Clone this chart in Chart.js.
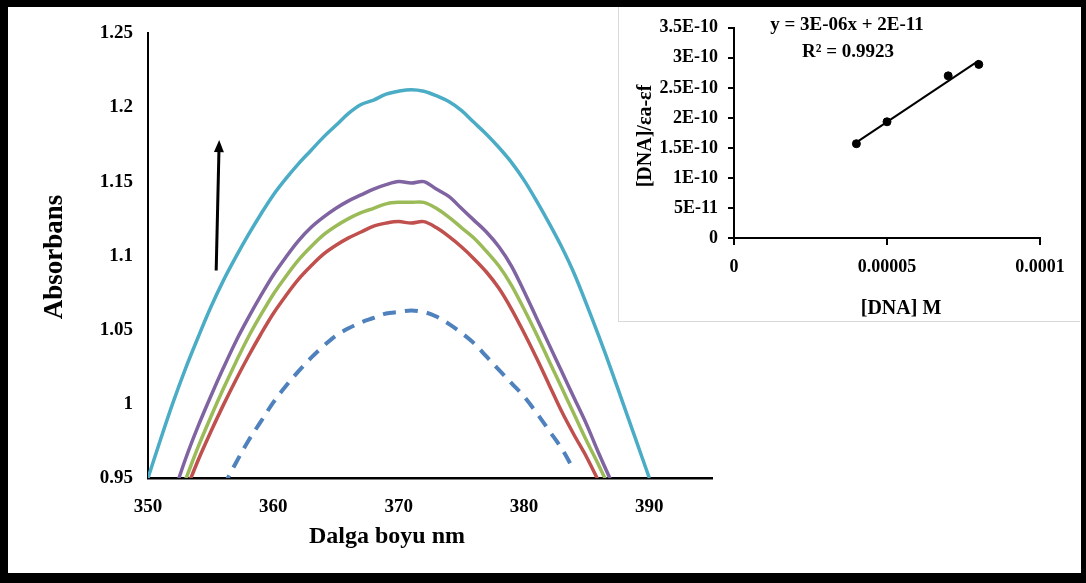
<!DOCTYPE html>
<html lang="tr">
<head>
<meta charset="utf-8">
<title>Absorbans - Dalga boyu</title>
<script src="https://cdn.jsdelivr.net/npm/chart.js@4.4.1/dist/chart.umd.min.js"></script>
<style>
    html, body { margin: 0; padding: 0; background: #000; }
    body { width: 1086px; height: 583px; position: relative; overflow: hidden; }
    #sheet  { position: absolute; left: 8px; top: 7px; width: 1073px; height: 566px; background: #fff; }
    #main   { position: absolute; left: 0; top: 0; }
    #insetBox {
        position: absolute; left: 610px; top: 0; width: 462px; height: 315px;
        background: #fff; border-left: 1px solid #d9d9d9; border-bottom: 1px solid #d9d9d9;
        box-sizing: border-box;
    }
    #inset  { position: absolute; left: 0; top: 0; }
</style>
</head>
<body>
<div id="sheet">
    <canvas id="main" width="1073" height="566"></canvas>
    <div id="insetBox"><canvas id="inset" width="462" height="315"></canvas></div>
</div>

<script>
// ── Data: UV-Vis spectra (main chart) ────────────────────────────────────────
const NM = [350, 351, 352, 353, 354, 355, 356, 357, 358, 359,
            360, 361, 362, 363, 364, 365, 366, 367, 368, 369,
            370, 371, 372, 373, 374, 375, 376, 377, 378, 379,
            380, 381, 382, 383, 384, 385, 386, 387, 388, 389, 390];

const ABS_DASHED = [null, null, null, null, null, null, 0.944, 0.960, 0.975, 0.988,
                    1.001, 1.012, 1.022, 1.031, 1.039, 1.046, 1.051, 1.055, 1.058, 1.061,
                    1.062, 1.063, 1.062, 1.059, 1.054, 1.048, 1.041, 1.032, 1.023, 1.014,
                    1.005, 0.994, 0.982, 0.970, 0.955, null, null, null, null, null, null];

const ABS_RED = [null, null, null, 0.941, 0.962, 0.981, 0.999, 1.016, 1.032, 1.047,
                 1.061, 1.073, 1.084, 1.093, 1.101, 1.107, 1.112, 1.116, 1.120, 1.122,
                 1.123, 1.122, 1.123, 1.119, 1.113, 1.106, 1.098, 1.089, 1.078, 1.064,
                 1.048, 1.031, 1.013, 0.995, 0.979, 0.964, 0.947, null, null, null, null];

const ABS_GREEN = [null, null, null, 0.949, 0.971, 0.991, 1.010, 1.028, 1.045, 1.060,
                   1.074, 1.086, 1.097, 1.106, 1.114, 1.120, 1.125, 1.129, 1.132, 1.135,
                   1.136, 1.136, 1.136, 1.132, 1.126, 1.119, 1.112, 1.103, 1.093, 1.080,
                   1.064, 1.047, 1.029, 1.011, 0.993, 0.975, 0.958, 0.940, null, null, null];

const ABS_PURPLE = [null, null, 0.938, 0.963, 0.985, 1.005, 1.024, 1.042, 1.058, 1.073,
                    1.087, 1.099, 1.110, 1.119, 1.126, 1.132, 1.137, 1.141, 1.145, 1.148,
                    1.150, 1.149, 1.150, 1.145, 1.140, 1.132, 1.124, 1.116, 1.106, 1.093,
                    1.076, 1.058, 1.040, 1.022, 1.004, 0.986, 0.966, 0.947, null, null, null];

const ABS_CYAN = [0.950, 0.976, 1.001, 1.024, 1.045, 1.065, 1.083, 1.099, 1.114, 1.128,
                  1.141, 1.152, 1.162, 1.171, 1.180, 1.188, 1.196, 1.202, 1.205, 1.209,
                  1.211, 1.212, 1.211, 1.208, 1.204, 1.198, 1.190, 1.182, 1.173, 1.163,
                  1.151, 1.137, 1.122, 1.106, 1.088, 1.067, 1.045, 1.022, 0.998, 0.974, 0.950];

const X_TICKS = [350, 360, 370, 380, 390];
const Y_TICKS = [0.95, 1, 1.05, 1.1, 1.15, 1.2, 1.25];
const Y_TICK_LABELS = ['0.95', '1', '1.05', '1.1', '1.15', '1.2', '1.25'];

// ── Data: inset (binding plot) ───────────────────────────────────────────────
const DNA_M   = [0.00004, 0.00005, 0.00007, 0.00008];
const DNA_EPS = [1.57e-10, 1.935e-10, 2.70e-10, 2.89e-10];

const INSET_X_TICKS = [0, 0.00005, 0.0001];
const INSET_X_TICK_LABELS = ['0', '0.00005', '0.0001'];
const INSET_Y_TICKS = [0, 5e-11, 1e-10, 1.5e-10, 2e-10, 2.5e-10, 3e-10, 3.5e-10];
const INSET_Y_TICK_LABELS = ['0', '5E-11', '1E-10', '1.5E-10', '2E-10', '2.5E-10', '3E-10', '3.5E-10'];

const EQUATION = 'y = 3E-06x + 2E-11';
const R_SQUARED = 'R² = 0.9923';

(function () {
    'use strict';

    const SERIF = "'Liberation Serif', 'Times New Roman', serif";

    // Free text (axis titles, trendline label) drawn on top of the chart
    const freeText = {
        id: 'freeText',
        afterDraw(chart, args, opts) {
            const ctx = chart.ctx;
            (opts.items || []).forEach(t => {
                ctx.save();
                ctx.font = `bold ${t.size}px ${SERIF}`;
                ctx.fillStyle = '#000';
                ctx.textAlign = 'center';
                ctx.textBaseline = 'middle';
                ctx.translate(t.x, t.y);
                if (t.rotate) ctx.rotate(-Math.PI / 2);
                ctx.fillText(t.text, 0, 0);
                ctx.restore();
            });
        },
    };

    // Upward arrow, placed in data units
    const arrow = {
        id: 'arrow',
        afterDatasetsDraw(chart, args, opts) {
            if (!opts.from) return;
            const { x, y } = chart.scales;
            const x0 = x.getPixelForValue(opts.from[0]), y0 = y.getPixelForValue(opts.from[1]);
            const x1 = x.getPixelForValue(opts.to[0]),   y1 = y.getPixelForValue(opts.to[1]);
            const ang = Math.atan2(y1 - y0, x1 - x0);
            const ctx = chart.ctx;
            ctx.save();
            ctx.strokeStyle = '#000';
            ctx.fillStyle = '#000';
            ctx.lineWidth = 3;
            ctx.beginPath();
            ctx.moveTo(x0, y0);
            ctx.lineTo(x1 - 8 * Math.cos(ang), y1 - 8 * Math.sin(ang));
            ctx.stroke();
            ctx.beginPath();
            ctx.moveTo(x1, y1);
            ctx.lineTo(x1 - 12 * Math.cos(ang) + 5 * Math.sin(ang), y1 - 12 * Math.sin(ang) - 5 * Math.cos(ang));
            ctx.lineTo(x1 - 12 * Math.cos(ang) - 5 * Math.sin(ang), y1 - 12 * Math.sin(ang) + 5 * Math.cos(ang));
            ctx.closePath();
            ctx.fill();
            ctx.restore();
        },
    };

    const toPoints = arr => NM.map((nm, i) => ({ x: nm, y: arr[i] }));

    const spectrum = (arr, color, dash) => ({
        data       : toPoints(arr),
        borderColor: color,
        borderWidth: dash ? 4 : 3.5,
        borderDash : dash || [],
        pointRadius: 0,
        tension    : 0.35,
        spanGaps   : false,
    });

    const tickFont = size => ({ family: SERIF, size, weight: 'bold' });

    // ── Main chart ────────────────────────────────────────────────────────────
    function initMain() {
        new Chart(document.getElementById('main'), {
            type: 'line',
            data: {
                datasets: [
                    spectrum(ABS_CYAN,   '#4BACC6'),
                    spectrum(ABS_PURPLE, '#8064A2'),
                    spectrum(ABS_GREEN,  '#9BBB59'),
                    spectrum(ABS_RED,    '#C0504D'),
                    spectrum(ABS_DASHED, '#4F81BD', [13, 9]),
                ],
            },
            options: {
                responsive: false,
                animation : false,
                layout    : { padding: { top: 11, right: 369, left: 0, bottom: 0 } },
                plugins: {
                    legend : { display: false },
                    tooltip: { enabled: false },
                    arrow  : { from: [355.44, 1.090], to: [355.68, 1.178] },
                    freeText: {
                        items: [
                            { text: 'Absorbans',     x: 47,  y: 250, size: 27, rotate: true },
                            { text: 'Dalga boyu nm', x: 379, y: 530, size: 24 },
                        ],
                    },
                },
                scales: {
                    x: {
                        type: 'linear',
                        min : 350,
                        max : 395,
                        grid  : { display: false, drawTicks: false },
                        border: { display: true, color: '#000', width: 2.5 },
                        ticks : { color: '#000', font: tickFont(19), padding: 18, maxRotation: 0 },
                        afterBuildTicks: s => { s.ticks = X_TICKS.map(v => ({ value: v })); },
                        afterFit: s => { s.height = 95; },
                    },
                    y: {
                        min : 0.95,
                        max : 1.25,
                        grid  : { display: false, drawTicks: false },
                        border: { display: true, color: '#000', width: 2 },
                        ticks : {
                            color: '#000', font: tickFont(19), padding: 15,
                            callback: v => Y_TICK_LABELS[Y_TICKS.indexOf(v)],
                        },
                        afterBuildTicks: s => { s.ticks = Y_TICKS.map(v => ({ value: v })); },
                        afterFit: s => { s.width = 140; },
                    },
                },
            },
            plugins: [arrow, freeText],
        });
    }

    // ── Inset: [DNA]/(εa-εf) vs [DNA] with linear trend ──────────────────────
    function initInset() {
        // least-squares line through the measured points
        const n  = DNA_M.length;
        const mx = DNA_M.reduce((a, b) => a + b, 0) / n;
        const my = DNA_EPS.reduce((a, b) => a + b, 0) / n;
        let sxy = 0, sxx = 0;
        DNA_M.forEach((x, i) => { sxy += (x - mx) * (DNA_EPS[i] - my); sxx += (x - mx) ** 2; });
        const slope = sxy / sxx;
        const icpt  = my - slope * mx;
        const xs    = [Math.min(...DNA_M), Math.max(...DNA_M)];

        new Chart(document.getElementById('inset'), {
            type: 'scatter',
            data: {
                datasets: [
                    {
                        data: DNA_M.map((x, i) => ({ x, y: DNA_EPS[i] })),
                        backgroundColor: '#000',
                        borderColor    : '#000',
                        pointRadius    : 4,
                    },
                    {
                        type: 'line',
                        data: xs.map(x => ({ x, y: slope * x + icpt })),
                        borderColor: '#000',
                        borderWidth: 2,
                        pointRadius: 0,
                    },
                ],
            },
            options: {
                responsive: false,
                animation : false,
                layout    : { padding: { top: 14, right: 41, left: 0, bottom: 0 } },
                plugins: {
                    legend : { display: false },
                    tooltip: { enabled: false },
                    freeText: {
                        items: [
                            { text: '[DNA]/εa-εf', x: 27,  y: 129, size: 20, rotate: true },
                            { text: '[DNA] M',     x: 282, y: 302, size: 20 },
                            { text: EQUATION,      x: 228, y: 18,  size: 19 },
                            { text: R_SQUARED,     x: 229, y: 45,  size: 19 },
                        ],
                    },
                },
                scales: {
                    x: {
                        type: 'linear',
                        min : 0,
                        max : 0.0001,
                        grid  : { display: true, drawOnChartArea: false, drawTicks: true, tickLength: 7, color: '#000', lineWidth: 2 },
                        border: { display: true, color: '#000', width: 2 },
                        ticks : {
                            color: '#000', font: tickFont(18), padding: 12, maxRotation: 0,
                            callback: v => INSET_X_TICK_LABELS[INSET_X_TICKS.indexOf(v)],
                        },
                        afterBuildTicks: s => { s.ticks = INSET_X_TICKS.map(v => ({ value: v })); },
                        afterFit: s => { s.height = 84; },
                    },
                    y: {
                        min : 0,
                        max : 3.5e-10,
                        grid  : { display: true, drawOnChartArea: false, drawTicks: true, tickLength: 6, color: '#000', lineWidth: 2 },
                        border: { display: true, color: '#000', width: 2 },
                        ticks : {
                            color: '#000', font: tickFont(18), padding: 10,
                            callback: v => INSET_Y_TICK_LABELS[INSET_Y_TICKS.indexOf(v)],
                        },
                        afterBuildTicks: s => { s.ticks = INSET_Y_TICKS.map(v => ({ value: v })); },
                        afterFit: s => { s.width = 115; },
                    },
                },
            },
            plugins: [freeText],
        });
    }

    function init() {
        if (typeof Chart === 'undefined') {
            console.warn('Chart.js not loaded.');
            return;
        }
        initMain();
        initInset();
    }

    if (document.readyState === 'loading') {
        document.addEventListener('DOMContentLoaded', init);
    } else {
        init();
    }
})();
</script>
</body>
</html>
